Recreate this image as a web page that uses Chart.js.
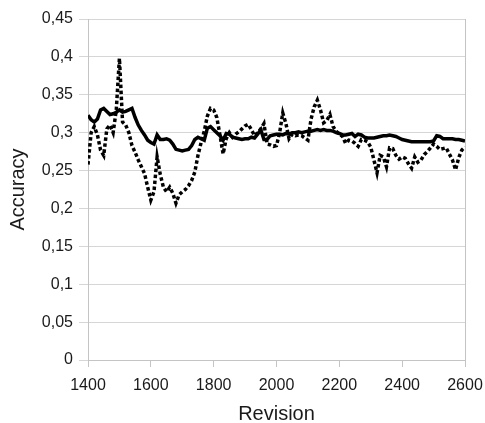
<!DOCTYPE html>
<html>
<head>
<meta charset="utf-8">
<script src="https://cdn.jsdelivr.net/npm/chart.js@4.4.1/dist/chart.umd.min.js"></script>
<style>
  html, body { margin: 0; padding: 0; background: #fff; }
  #wrap { width: 485px; height: 423px; }
</style>
</head>
<body>
<div id="wrap"><canvas id="accuracyChart"></canvas></div>
<script>
// revision numbers sampled along the x axis
const revisions = [
    1400, 1410, 1420, 1430, 1440, 1450, 1460, 1470, 1480, 1490,
    1500, 1510, 1520, 1530, 1540, 1550, 1560, 1570, 1580, 1590,
    1600, 1610, 1620, 1630, 1640, 1650, 1660, 1670, 1680, 1690,
    1700, 1710, 1720, 1730, 1740, 1750, 1760, 1770, 1780, 1790,
    1800, 1810, 1820, 1830, 1840, 1850, 1860, 1870, 1880, 1890,
    1900, 1910, 1920, 1930, 1940, 1950, 1960, 1970, 1980, 1990,
    2000, 2010, 2020, 2030, 2040, 2050, 2060, 2070, 2080, 2090,
    2100, 2110, 2120, 2130, 2140, 2150, 2160, 2170, 2180, 2190,
    2200, 2210, 2220, 2230, 2240, 2250, 2260, 2270, 2280, 2290,
    2300, 2310, 2320, 2330, 2340, 2350, 2360, 2370, 2380, 2390,
    2400, 2410, 2420, 2430, 2440, 2450, 2460, 2470, 2480, 2490,
    2500, 2510, 2520, 2530, 2540, 2550, 2560, 2570, 2580, 2590,
    2600
];

// smooth (solid) series
const solidAcc = [
    0.323, 0.317, 0.314, 0.318, 0.330, 0.332, 0.328, 0.324, 0.325, 0.327,
    0.330, 0.327, 0.328, 0.330, 0.332, 0.320, 0.310, 0.303, 0.297, 0.290,
    0.287, 0.285, 0.297, 0.291, 0.291, 0.292, 0.290, 0.285, 0.278, 0.277,
    0.276, 0.277, 0.278, 0.283, 0.291, 0.294, 0.292, 0.290, 0.306, 0.308,
    0.304, 0.300, 0.296, 0.290, 0.299, 0.298, 0.294, 0.293, 0.292, 0.291,
    0.292, 0.292, 0.294, 0.293, 0.298, 0.304, 0.291, 0.291, 0.296, 0.297,
    0.298, 0.298, 0.297, 0.299, 0.298, 0.300, 0.300, 0.301, 0.300, 0.301,
    0.302, 0.302, 0.303, 0.304, 0.303, 0.304, 0.303, 0.303, 0.302, 0.300,
    0.299, 0.297, 0.297, 0.298, 0.299, 0.295, 0.298, 0.297, 0.294, 0.293,
    0.293, 0.293, 0.294, 0.295, 0.296, 0.296, 0.297, 0.296, 0.295, 0.293,
    0.291, 0.290, 0.289, 0.288, 0.288, 0.288, 0.288, 0.288, 0.288, 0.288,
    0.289, 0.296, 0.295, 0.292, 0.292, 0.292, 0.292, 0.291, 0.291, 0.290,
    0.289
];

// noisy (dotted) series
const dottedAcc = [
    0.258, 0.300, 0.308, 0.297, 0.277, 0.270, 0.305, 0.310, 0.300, 0.330,
    0.398, 0.314, 0.310, 0.300, 0.283, 0.274, 0.264, 0.255, 0.246, 0.228,
    0.211, 0.222, 0.268, 0.245, 0.228, 0.222, 0.228, 0.220, 0.207, 0.218,
    0.222, 0.225, 0.230, 0.237, 0.248, 0.270, 0.287, 0.302, 0.322, 0.332,
    0.330, 0.320, 0.297, 0.272, 0.292, 0.300, 0.294, 0.298, 0.301, 0.305,
    0.309, 0.311, 0.304, 0.296, 0.300, 0.305, 0.312, 0.285, 0.284, 0.282,
    0.283, 0.300, 0.326, 0.312, 0.292, 0.298, 0.296, 0.297, 0.296, 0.293,
    0.290, 0.318, 0.334, 0.343, 0.330, 0.313, 0.316, 0.324, 0.308, 0.302,
    0.298, 0.295, 0.286, 0.290, 0.289, 0.286, 0.282, 0.291, 0.290, 0.288,
    0.281, 0.264, 0.247, 0.270, 0.268, 0.255, 0.280, 0.279, 0.270, 0.265,
    0.268, 0.266, 0.259, 0.253, 0.268, 0.261, 0.264, 0.271, 0.275, 0.280,
    0.285, 0.282, 0.278, 0.279, 0.280, 0.272, 0.264, 0.251, 0.267, 0.277,
    0.281
];

const xTicks = [1400, 1600, 1800, 2000, 2200, 2400, 2600];
const yTicks = [0, 0.05, 0.1, 0.15, 0.2, 0.25, 0.3, 0.35, 0.4, 0.45];

const toPoints = vals => revisions.map((r, i) => ({ x: r, y: vals[i] }));
const gridGrey = "#d6d6d6";
const axisGrey = "#c4c4c4";
const textCol = "#1a1a1a";
const fontFam = "'Liberation Sans', Arial, sans-serif";

new Chart(document.getElementById("accuracyChart"), {
    type: "line",
    data: {
        datasets: [{
            label: "dotted",
            data: toPoints(dottedAcc),
            borderColor: "#000",
            borderWidth: 3.5,
            borderDash: [3.5, 2.5],
            pointRadius: 0,
            tension: 0
        }, {
            label: "solid",
            data: toPoints(solidAcc),
            borderColor: "#000",
            borderWidth: 3.5,
            pointRadius: 0,
            tension: 0
        }]
    },
    options: {
        responsive: true,
        maintainAspectRatio: false,
        animation: false,
        layout: { padding: { top: 19, left: 0, right: 20, bottom: 0 } },
        plugins: { legend: { display: false }, tooltip: { enabled: false } },
        scales: {
            x: {
                type: "linear",
                min: 1400,
                max: 2600,
                afterBuildTicks: ax => { ax.ticks = xTicks.map(v => ({ value: v })); },
                afterFit: ax => {
                    ax.height = 63;
                    // label overflow fits inside the 20px right margin
                    ax.paddingLeft = 0;
                    ax.paddingRight = 0;
                },
                grid: {
                    // only the last vertical line shows (right frame), ticks stay below the axis
                    color: c => (c.tick && c.tick.value === 2600 ? axisGrey : "rgba(0,0,0,0)"),
                    tickColor: axisGrey,
                    tickLength: 7
                },
                border: { color: axisGrey, width: 1 },
                ticks: {
                    color: textCol, font: { family: fontFam, size: 16 }, padding: 9, maxRotation: 0,
                    callback: v => String(v)
                },
                title: {
                    display: true, text: "Revision", color: textCol,
                    font: { family: fontFam, size: 20, lineHeight: 1 },
                    padding: { top: 0, bottom: -1 }
                }
            },
            y: {
                min: 0,
                max: 0.45,
                afterBuildTicks: ax => { ax.ticks = yTicks.map(v => ({ value: v })); },
                afterFit: ax => { ax.width = 88; },
                grid: { color: gridGrey, tickLength: 9 },
                border: { color: axisGrey, width: 1 },
                ticks: {
                    color: textCol, font: { family: fontFam, size: 16 }, padding: 6,
                    callback: v => String(Math.round(v * 100) / 100).replace(".", ",")
                },
                title: {
                    display: true, text: "Accuracy", color: textCol,
                    font: { family: fontFam, size: 20, lineHeight: 1 },
                    padding: { top: 8, bottom: 0 }
                }
            }
        }
    }
});
</script>
</body>
</html>
